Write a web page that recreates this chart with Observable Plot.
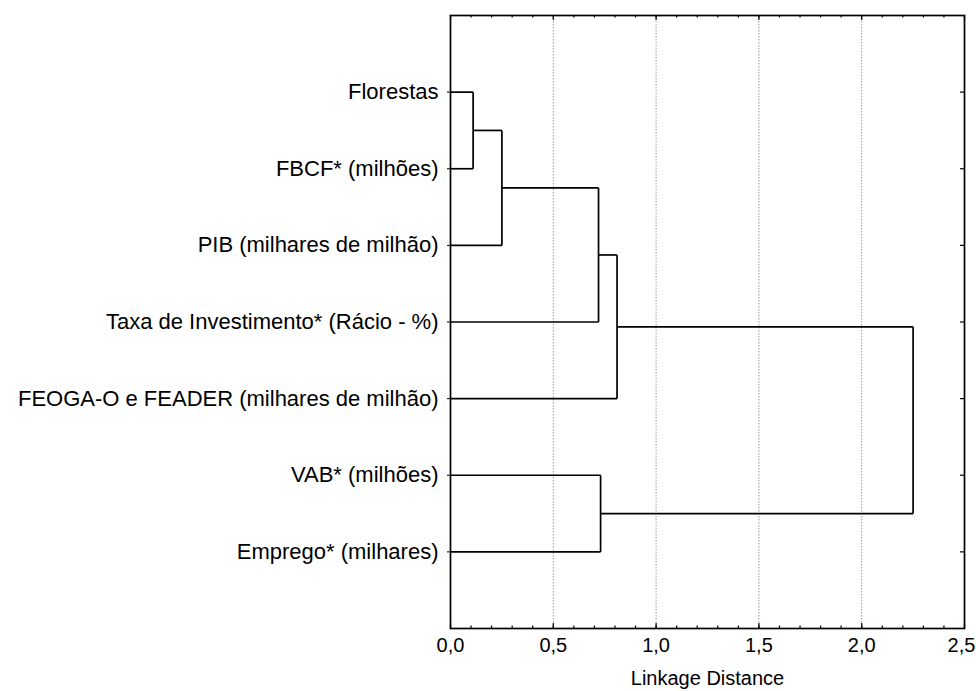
<!DOCTYPE html>
<html><head><meta charset="utf-8">
<script src="https://cdn.jsdelivr.net/npm/d3@7"></script>
<script src="https://cdn.jsdelivr.net/npm/@observablehq/plot@0.6"></script>
<style>body{margin:0;background:#fff;} #chart svg{font-family:"Liberation Sans",Arial,sans-serif;}</style>
</head><body><div id="chart"></div>
<script>
const leaves = ["Florestas", "FBCF* (milhões)", "PIB (milhares de milhão)", "Taxa de Investimento* (Rácio - %)", "FEOGA-O e FEADER (milhares de milhão)", "VAB* (milhões)", "Emprego* (milhares)"];
const leafPos = [1, 2, 3, 4, 5, 6, 7];
// merges: node indices (0-6 leaves, 7+ clusters in merge order)
const mergeLeft = [0, 7, 8, 9, 5, 10];
const mergeRight = [1, 2, 3, 4, 6, 11];
const mergeHeight = [0.11, 0.25, 0.72, 0.81, 0.73, 2.25];
const xTicks = [0, 0.5, 1, 1.5, 2, 2.5];
const xTickLabels = ["0,0", "0,5", "1,0", "1,5", "2,0", "2,5"];
const xMinorTicks = [0, 0.1, 0.2, 0.3, 0.4, 0.5, 0.6, 0.7, 0.8, 0.9, 1, 1.1, 1.2, 1.3, 1.4, 1.5, 1.6, 1.7, 1.8, 1.9, 2, 2.1, 2.2, 2.3, 2.4, 2.5];
const gridTicks = [0.5, 1, 1.5, 2];
const xLabel = "Linkage Distance";

const W = 976, H = 691, mL = 450, mR = 12, mT = 15, mB = 63;
const fh = H - mT - mB, fw = W - mL - mR;

const nodeY = leafPos.slice();
const nodeH = leaves.map(() => 0);
const segs = [];
mergeHeight.forEach((h, i) => {
  const l = mergeLeft[i], r = mergeRight[i];
  segs.push({x1: nodeH[l], x2: h, y1: nodeY[l], y2: nodeY[l]});
  segs.push({x1: nodeH[r], x2: h, y1: nodeY[r], y2: nodeY[r]});
  segs.push({x1: h, x2: h, y1: nodeY[l], y2: nodeY[r]});
  nodeY.push((nodeY[l] + nodeY[r]) / 2);
  nodeH.push(h);
});

const fmt = d => xTickLabels[xTicks.indexOf(d)];

const chart = Plot.plot({
  width: W, height: H,
  marginLeft: mL, marginRight: mR, marginTop: mT, marginBottom: mB,
  style: {color: "black", background: "white", fontFamily: "Liberation Sans, Arial, sans-serif"},
  x: {domain: [0, 2.5], axis: null},
  y: {domain: [0, 8], reverse: true},
  marks: [
    Plot.gridX(gridTicks, {stroke: "#999", strokeOpacity: 1, strokeDasharray: "1.5,1.5", strokeWidth: 1}),
    Plot.link(segs, {x1: "x1", y1: "y1", x2: "x2", y2: "y2", stroke: "black", strokeWidth: 1.7}),
    Plot.text(xTicks.slice(0, 5), {x: d => d, text: fmt, frameAnchor: "bottom", dy: 23, fontSize: 20, fill: "black"}),
    Plot.text(xTicks.slice(5), {x: d => d, text: fmt, frameAnchor: "bottom", dy: 23, dx: -3, fontSize: 20, fill: "black"}),
    Plot.ruleX(xMinorTicks, {insetTop: fh - 2.5, stroke: "black", strokeWidth: 1.2}),
    Plot.ruleX(xMinorTicks, {insetBottom: fh - 2.5, stroke: "black", strokeWidth: 1.2}),
    Plot.ruleX(xTicks, {insetTop: fh - 5, stroke: "black", strokeWidth: 1.2}),
    Plot.ruleX(xTicks, {insetBottom: fh - 5, stroke: "black", strokeWidth: 1.2}),
    Plot.ruleY(leafPos, {insetLeft: fw - 4, stroke: "black", strokeWidth: 1.2}),
    Plot.axisY(leafPos, {anchor: "left", tickSize: 3, tickPadding: 9, fontSize: 22, label: null,
      tickFormat: d => leaves[d - 1]}),
    Plot.frame({stroke: "black", strokeWidth: 1.7}),
    Plot.text([xLabel], {frameAnchor: "bottom", dy: 56, fontSize: 20, fill: "black"})
  ]
});
document.getElementById("chart").appendChild(chart);
</script>
</body></html>
